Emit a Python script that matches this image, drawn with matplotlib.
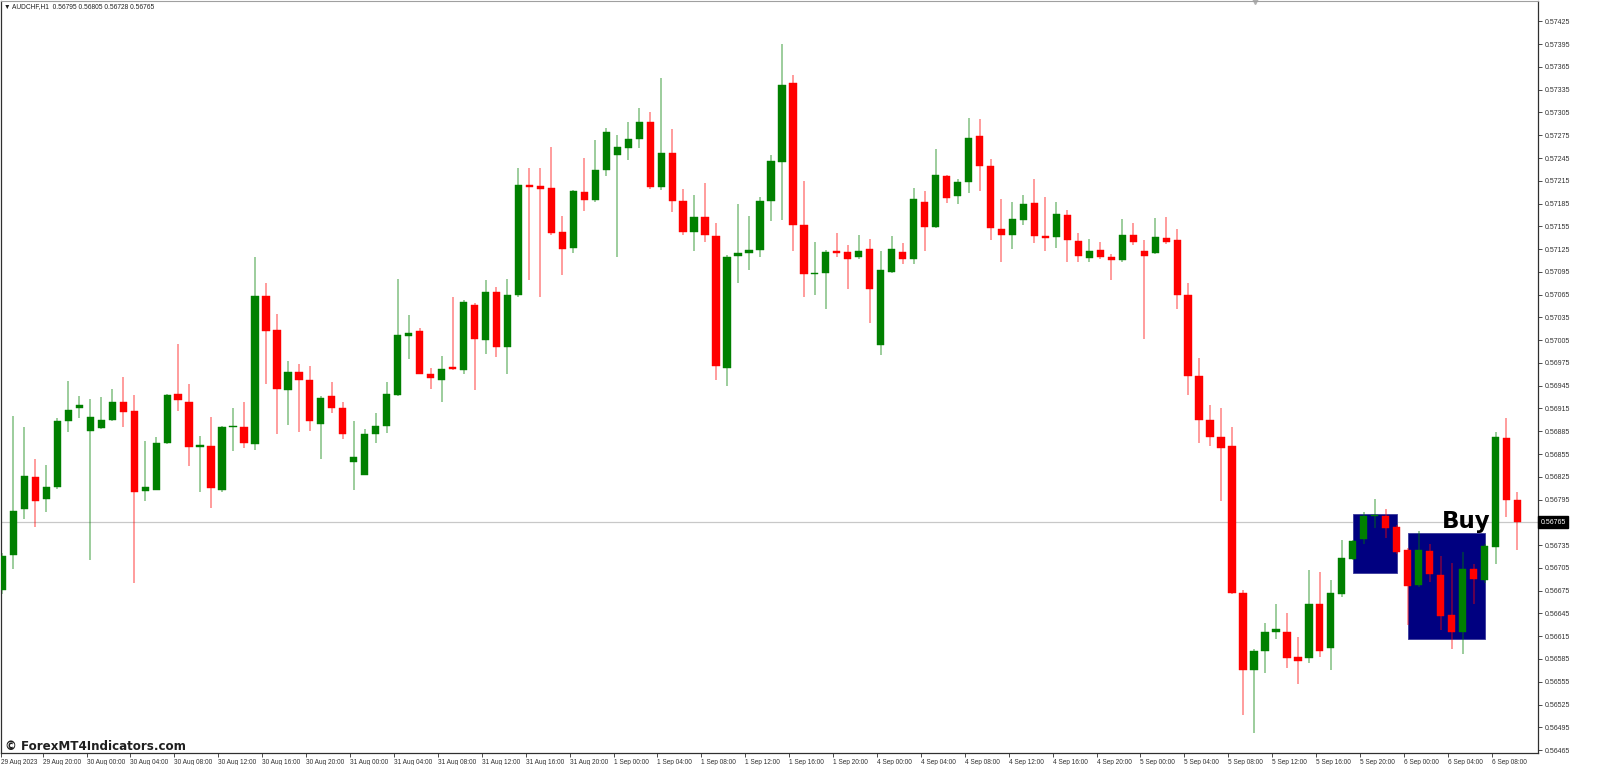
import matplotlib
matplotlib.use('Agg')
import matplotlib.pyplot as plt
from matplotlib.patches import Rectangle
from matplotlib.transforms import blended_transform_factory
import numpy as np

# AUDCHF H1 candles
opens = [0.56676, 0.56722, 0.56782, 0.56825, 0.56796, 0.56812, 0.56899, 0.56915, 0.56886, 0.56889,
         0.56900, 0.56923, 0.56912, 0.56806, 0.56808, 0.56869, 0.56934, 0.56923, 0.56864, 0.56865,
         0.56808, 0.56890, 0.56891, 0.56868, 0.57063, 0.57019, 0.56940, 0.56963, 0.56953, 0.56895,
         0.56931, 0.56916, 0.56844, 0.56828, 0.56881, 0.56892, 0.56933, 0.57011, 0.57017, 0.56961,
         0.56952, 0.56970, 0.56966, 0.57051, 0.57005, 0.57069, 0.56996, 0.57064, 0.57210, 0.57208,
         0.57206, 0.57148, 0.57126, 0.57200, 0.57190, 0.57229, 0.57249, 0.57258, 0.57270, 0.57292,
         0.57207, 0.57251, 0.57189, 0.57147, 0.57167, 0.57142, 0.56969, 0.57116, 0.57120, 0.57124,
         0.57188, 0.57240, 0.57344, 0.57157, 0.57092, 0.57094, 0.57122, 0.57121, 0.57114, 0.57125,
         0.56999, 0.57095, 0.57121, 0.57112, 0.57187, 0.57154, 0.57221, 0.57195, 0.57213, 0.57274,
         0.57235, 0.57152, 0.57144, 0.57164, 0.57186, 0.57142, 0.57141, 0.57170, 0.57136, 0.57113,
         0.57124, 0.57115, 0.57111, 0.57143, 0.57123, 0.57120, 0.57139, 0.57137, 0.57064, 0.56958,
         0.56900, 0.56878, 0.56865, 0.56672, 0.56570, 0.56595, 0.56621, 0.56620, 0.56588, 0.56586,
         0.56658, 0.56599, 0.56670, 0.56717, 0.56743, 0.56773, 0.56774, 0.56759, 0.56729, 0.56683,
         0.56727, 0.56696, 0.56643, 0.56621, 0.56704, 0.56689, 0.56733, 0.56876, 0.56795]
highs = [0.56725, 0.56905, 0.56891, 0.56849, 0.56841, 0.56903, 0.56951, 0.56931, 0.56928, 0.56930,
         0.56941, 0.56956, 0.56933, 0.56872, 0.56877, 0.56934, 0.57000, 0.56947, 0.56879, 0.56904,
         0.56892, 0.56915, 0.56924, 0.57114, 0.57081, 0.57040, 0.56978, 0.56973, 0.56971, 0.56931,
         0.56950, 0.56924, 0.56899, 0.56888, 0.56909, 0.56950, 0.57086, 0.57038, 0.57021, 0.56969,
         0.56984, 0.57062, 0.57058, 0.57054, 0.57084, 0.57075, 0.57085, 0.57232, 0.57232, 0.57232,
         0.57260, 0.57168, 0.57203, 0.57245, 0.57269, 0.57284, 0.57276, 0.57293, 0.57311, 0.57305,
         0.57350, 0.57283, 0.57204, 0.57196, 0.57212, 0.57160, 0.57117, 0.57184, 0.57168, 0.57194,
         0.57249, 0.57395, 0.57354, 0.57215, 0.57135, 0.57124, 0.57146, 0.57130, 0.57144, 0.57138,
         0.57122, 0.57142, 0.57133, 0.57206, 0.57202, 0.57257, 0.57223, 0.57218, 0.57298, 0.57296,
         0.57244, 0.57191, 0.57187, 0.57196, 0.57218, 0.57194, 0.57187, 0.57177, 0.57146, 0.57138,
         0.57135, 0.57118, 0.57165, 0.57160, 0.57137, 0.57166, 0.57167, 0.57151, 0.57080, 0.56981,
         0.56920, 0.56916, 0.56890, 0.56676, 0.56598, 0.56633, 0.56658, 0.56646, 0.56614, 0.56702,
         0.56700, 0.56689, 0.56742, 0.56742, 0.56779, 0.56796, 0.56783, 0.56762, 0.56731, 0.56753,
         0.56736, 0.56720, 0.56711, 0.56726, 0.56710, 0.56737, 0.56884, 0.56903, 0.56805]
lows = [0.56670, 0.56704, 0.56770, 0.56759, 0.56779, 0.56809, 0.56884, 0.56902, 0.56715, 0.56888,
        0.56899, 0.56890, 0.56685, 0.56793, 0.56807, 0.56868, 0.56912, 0.56839, 0.56805, 0.56784,
        0.56805, 0.56859, 0.56863, 0.56860, 0.56947, 0.56881, 0.56893, 0.56884, 0.56886, 0.56848,
        0.56909, 0.56875, 0.56808, 0.56827, 0.56870, 0.56883, 0.56932, 0.56980, 0.56960, 0.56941,
        0.56923, 0.56966, 0.56960, 0.56940, 0.56987, 0.56983, 0.56961, 0.57062, 0.57084, 0.57062,
        0.57143, 0.57091, 0.57120, 0.57175, 0.57187, 0.57221, 0.57115, 0.57242, 0.57258, 0.57204,
        0.57203, 0.57174, 0.57144, 0.57123, 0.57134, 0.56952, 0.56944, 0.57081, 0.57097, 0.57114,
        0.57162, 0.57163, 0.57122, 0.57062, 0.57064, 0.57046, 0.57114, 0.57073, 0.57112, 0.57027,
        0.56985, 0.57094, 0.57106, 0.57105, 0.57123, 0.57153, 0.57186, 0.57184, 0.57199, 0.57202,
        0.57137, 0.57108, 0.57125, 0.57157, 0.57133, 0.57123, 0.57126, 0.57108, 0.57108, 0.57108,
        0.57112, 0.57084, 0.57108, 0.57130, 0.57006, 0.57118, 0.57132, 0.57046, 0.56933, 0.56870,
        0.56865, 0.56793, 0.56671, 0.56511, 0.56488, 0.56567, 0.56611, 0.56573, 0.56552, 0.56580,
        0.56588, 0.56570, 0.56666, 0.56716, 0.56736, 0.56757, 0.56745, 0.56723, 0.56630, 0.56680,
        0.56687, 0.56623, 0.56598, 0.56592, 0.56658, 0.56685, 0.56710, 0.56772, 0.56728]
closes = [0.56721, 0.56780, 0.56826, 0.56793, 0.56812, 0.56899, 0.56913, 0.56919, 0.56904, 0.56900,
          0.56923, 0.56911, 0.56805, 0.56812, 0.56869, 0.56933, 0.56926, 0.56864, 0.56867, 0.56810,
          0.56891, 0.56892, 0.56870, 0.57063, 0.57017, 0.56941, 0.56963, 0.56952, 0.56898, 0.56929,
          0.56915, 0.56881, 0.56851, 0.56881, 0.56892, 0.56934, 0.57012, 0.57015, 0.56961, 0.56955,
          0.56967, 0.56967, 0.57055, 0.57006, 0.57069, 0.56996, 0.57064, 0.57209, 0.57207, 0.57204,
          0.57146, 0.57125, 0.57202, 0.57190, 0.57229, 0.57279, 0.57260, 0.57270, 0.57293, 0.57207,
          0.57251, 0.57189, 0.57147, 0.57167, 0.57143, 0.56971, 0.57115, 0.57120, 0.57124, 0.57188,
          0.57241, 0.57341, 0.57157, 0.57092, 0.57094, 0.57121, 0.57120, 0.57112, 0.57122, 0.57073,
          0.57097, 0.57125, 0.57112, 0.57191, 0.57154, 0.57222, 0.57193, 0.57213, 0.57272, 0.57234,
          0.57153, 0.57144, 0.57165, 0.57184, 0.57142, 0.57140, 0.57171, 0.57137, 0.57116, 0.57122,
          0.57115, 0.57110, 0.57143, 0.57135, 0.57116, 0.57141, 0.57135, 0.57064, 0.56958, 0.56900,
          0.56878, 0.56863, 0.56672, 0.56570, 0.56595, 0.56621, 0.56624, 0.56586, 0.56582, 0.56657,
          0.56595, 0.56672, 0.56718, 0.56740, 0.56774, 0.56775, 0.56758, 0.56726, 0.56681, 0.56729,
          0.56697, 0.56641, 0.56621, 0.56704, 0.56690, 0.56734, 0.56877, 0.56794, 0.56765]

time_labels = ['29 Aug 2023', '29 Aug 20:00', '30 Aug 00:00', '30 Aug 04:00', '30 Aug 08:00',
               '30 Aug 12:00', '30 Aug 16:00', '30 Aug 20:00', '31 Aug 00:00', '31 Aug 04:00',
               '31 Aug 08:00', '31 Aug 12:00', '31 Aug 16:00', '31 Aug 20:00', '1 Sep 00:00',
               '1 Sep 04:00', '1 Sep 08:00', '1 Sep 12:00', '1 Sep 16:00', '1 Sep 20:00',
               '4 Sep 00:00', '4 Sep 04:00', '4 Sep 08:00', '4 Sep 12:00', '4 Sep 16:00',
               '4 Sep 20:00', '5 Sep 00:00', '5 Sep 04:00', '5 Sep 08:00', '5 Sep 12:00',
               '5 Sep 16:00', '5 Sep 20:00', '6 Sep 00:00', '6 Sep 04:00', '6 Sep 08:00']
label_bars = [4 * i for i in range(len(time_labels))]

price_ticks = [round(0.56465 + 0.0003 * i, 5) for i in range(33)]
last_price = 0.56765
header = 'AUDCHF,H1  0.56795 0.56805 0.56728 0.56765'

# signal zones: (first bar, last bar, low, high)
zones = [(123, 127, 0.56698, 0.56776),
         (128, 135, 0.56611, 0.56751)]
signal_text = 'Buy'
signal_bar = 135.5
signal_price = 0.56758

UP = '#008000'
DOWN = '#ff0000'

o = np.array(opens)
h = np.array(highs)
l = np.array(lows)
c = np.array(closes)
x = np.arange(len(o))
cols = np.where(c >= o, UP, DOWN)

fig = plt.figure(figsize=(16, 7.65), dpi=100)
ax = fig.add_axes([0.0006, 12 / 765, 1538 / 1600 - 0.0006, 752 / 765])
ax.set_xlim(-0.137, 139.87)
ax.set_ylim(0.564611, 0.574519)

# zones behind the candles
for b0, b1, lo, hi in zones:
    ax.add_patch(Rectangle((b0, lo), b1 - b0, hi - lo, facecolor='#000080',
                           edgecolor='#3a3a9a', lw=0.6, zorder=1))

ax.axhline(last_price, color='#c8c8c8', lw=0.9, zorder=0.5)

ax.vlines(x, l, h, colors=cols, lw=1.3, alpha=0.42, zorder=2)
body = np.maximum(np.abs(c - o), 0.000015)
ax.bar(x, body, bottom=np.minimum(o, c), width=0.66, color=cols,
       edgecolor=cols, lw=0.3, zorder=3)

ax.text(signal_bar, signal_price, signal_text, ha='right', va='baseline',
        fontsize=16.5, fontweight='bold', color='black', zorder=5)

# axes styling, MT4 like
for s in ['left', 'right', 'bottom']:
    ax.spines[s].set_color('#303030')
    ax.spines[s].set_linewidth(0.9)
ax.spines['top'].set_color('#a0a0a0')
ax.spines['top'].set_linewidth(0.8)

tick_font = ['Liberation Sans', 'DejaVu Sans']
ax.yaxis.tick_right()
ax.set_yticks(price_ticks)
# the tick at the last price is covered by the price tag
ylabels = ['' if abs(p - last_price) < 1e-7 else '%.5f' % p for p in price_ticks]
ax.set_yticklabels(ylabels, fontsize=5.0, family=tick_font, color='#202020')
ax.tick_params(axis='y', direction='out', length=3, width=0.6, pad=2, colors='#303030')

xt = [-0.1] + [b - 0.34 for b in label_bars[1:]]
ax.set_xticks(xt)
ax.set_xticklabels(time_labels, fontsize=4.7, family=tick_font, color='#202020')
for t in ax.get_xticklabels():
    t.set_horizontalalignment('left')
ax.tick_params(axis='x', direction='out', length=3, width=0.6, pad=1.5, colors='#303030')

# current price tag on the axis
tr = blended_transform_factory(ax.transAxes, ax.transData)
ax.text(1.0015, last_price, '%.5f' % last_price, transform=tr, ha='left', va='center',
        fontsize=5.0, family=tick_font, color='white', clip_on=False, zorder=6,
        bbox=dict(boxstyle='square,pad=0.35', facecolor='black', edgecolor='black'))

ax.text(0.002, 0.992, '\u25bc ' + header, transform=ax.transAxes, ha='left', va='center',
        fontsize=4.8, family=['Liberation Sans', 'DejaVu Sans'], color='#202020')
ax.plot([114.1], [1.0], marker='v', color='#b0b0b0', markersize=5,
        transform=blended_transform_factory(ax.transData, ax.transAxes), clip_on=False)

fig.text(5 / 1600, 1 - 746 / 765, '\u00a9 ForexMT4Indicators.com', fontsize=8.6,
         fontweight='bold', va='center', ha='left', color='#202020')

fig.savefig('out.png', dpi=100)
